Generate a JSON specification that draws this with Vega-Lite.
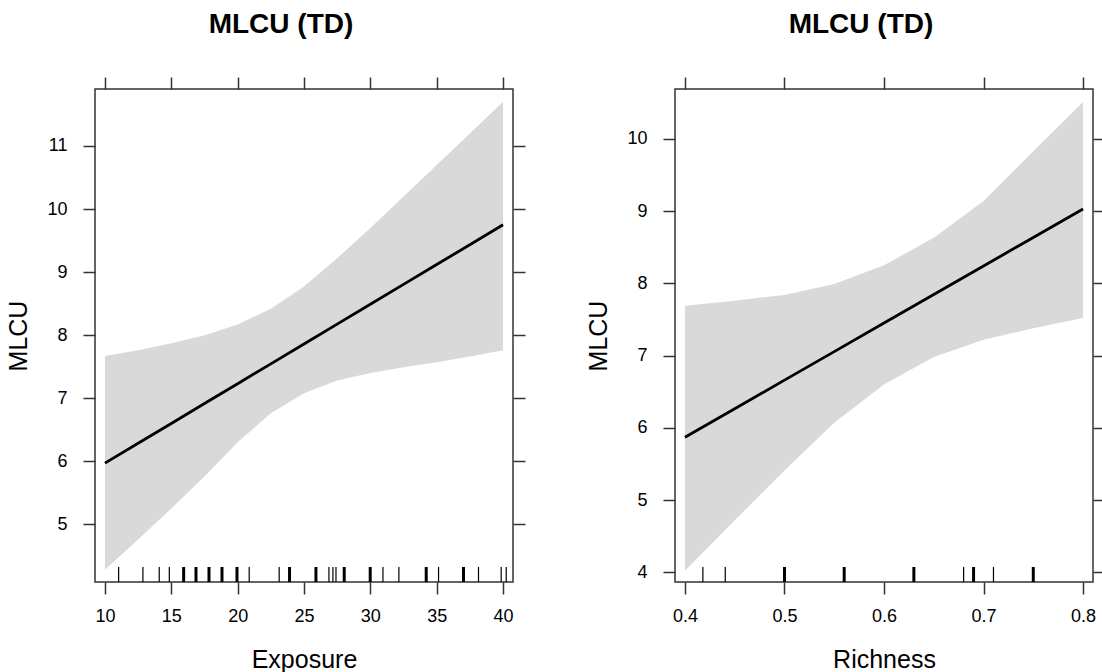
{
  "$schema": "https://vega.github.io/schema/vega-lite/v6.json",
  "background": "white",
  "padding": {"left": 6, "top": 10, "right": 5, "bottom": 5},
  "spacing": 59,
  "config": {
    "font": "Liberation Sans",
    "view": {"stroke": "#333333", "strokeWidth": 1.5},
    "axis": {
      "domain": false,
      "grid": false,
      "tickColor": "#333333",
      "tickWidth": 1.5,
      "tickSize": 12,
      "labelFontSize": 18,
      "labelColor": "#000000",
      "labelPadding": 13,
      "titleFontSize": 25,
      "titleFontWeight": "normal",
      "titleColor": "#000000"
    },
    "axisLeft": {"labelPadding": 16, "titlePadding": 15},
    "title": {"fontSize": 28, "fontWeight": "bold", "color": "#000000", "baseline": "bottom", "offset": 37, "dx": -23}
  },
  "datasets": {
    "exposure_fit": [
      {"Exposure": 10, "fit": 5.97, "lower": 4.28, "upper": 7.67},
      {"Exposure": 12.5, "fit": 6.285, "lower": 4.76, "upper": 7.76},
      {"Exposure": 15, "fit": 6.6, "lower": 5.25, "upper": 7.87},
      {"Exposure": 17.5, "fit": 6.915, "lower": 5.76, "upper": 8.0},
      {"Exposure": 20, "fit": 7.23, "lower": 6.3, "upper": 8.17},
      {"Exposure": 22.5, "fit": 7.545, "lower": 6.76, "upper": 8.42},
      {"Exposure": 25, "fit": 7.86, "lower": 7.08, "upper": 8.77},
      {"Exposure": 27.5, "fit": 8.175, "lower": 7.28, "upper": 9.22},
      {"Exposure": 30, "fit": 8.49, "lower": 7.4, "upper": 9.7},
      {"Exposure": 32.5, "fit": 8.805, "lower": 7.49, "upper": 10.2},
      {"Exposure": 35, "fit": 9.12, "lower": 7.57, "upper": 10.7},
      {"Exposure": 37.5, "fit": 9.435, "lower": 7.66, "upper": 11.2},
      {"Exposure": 40, "fit": 9.75, "lower": 7.76, "upper": 11.7}
    ],
    "exposure_rug": [
      {"v": 11.03}, {"v": 12.86}, {"v": 14.09}, {"v": 14.85},
      {"v": 15.93}, {"v": 15.93}, {"v": 16.86}, {"v": 16.86},
      {"v": 17.84}, {"v": 17.84}, {"v": 18.82}, {"v": 18.82},
      {"v": 19.95}, {"v": 19.95}, {"v": 20.87}, {"v": 23.13},
      {"v": 23.91}, {"v": 23.91}, {"v": 25.9}, {"v": 25.9},
      {"v": 26.88}, {"v": 27.18}, {"v": 27.41}, {"v": 28.03}, {"v": 28.03},
      {"v": 29.99}, {"v": 29.99}, {"v": 30.95}, {"v": 32.15},
      {"v": 34.21}, {"v": 34.21}, {"v": 35.14}, {"v": 37.02}, {"v": 37.02},
      {"v": 38.15}, {"v": 39.86}, {"v": 40.24}
    ],
    "richness_fit": [
      {"Richness": 0.4, "fit": 5.87, "lower": 4.02, "upper": 7.69},
      {"Richness": 0.45, "fit": 6.265, "lower": 4.72, "upper": 7.76},
      {"Richness": 0.5, "fit": 6.66, "lower": 5.41, "upper": 7.84},
      {"Richness": 0.55, "fit": 7.055, "lower": 6.07, "upper": 7.99},
      {"Richness": 0.6, "fit": 7.45, "lower": 6.6, "upper": 8.25},
      {"Richness": 0.65, "fit": 7.845, "lower": 6.98, "upper": 8.63},
      {"Richness": 0.7, "fit": 8.24, "lower": 7.22, "upper": 9.14},
      {"Richness": 0.75, "fit": 8.635, "lower": 7.38, "upper": 9.83},
      {"Richness": 0.8, "fit": 9.03, "lower": 7.52, "upper": 10.51}
    ],
    "richness_rug": [
      {"v": 0.418}, {"v": 0.4405}, {"v": 0.5}, {"v": 0.5},
      {"v": 0.56}, {"v": 0.56}, {"v": 0.63}, {"v": 0.63},
      {"v": 0.68}, {"v": 0.69}, {"v": 0.69}, {"v": 0.71},
      {"v": 0.75}, {"v": 0.75}
    ]
  },
  "hconcat": [
    {
      "width": 418,
      "height": 493,
      "title": {"text": "MLCU (TD)"},
      "resolve": {"axis": {"x": "independent", "y": "independent"}},
      "layer": [
        {
          "data": {"name": "exposure_fit"},
          "mark": {"type": "area", "color": "#d9d9d9"},
          "encoding": {
            "x": {"field": "Exposure", "type": "quantitative", "scale": {"domain": [9.25, 40.75], "nice": false, "zero": false},
                  "axis": {"orient": "bottom", "values": [10, 15, 20, 25, 30, 35, 40], "title": "Exposure", "titlePadding": 22}},
            "y": {"field": "lower", "type": "quantitative", "scale": {"domain": [4.085, 11.904], "nice": false, "zero": false},
                  "axis": {"orient": "left", "values": [5, 6, 7, 8, 9, 10, 11], "title": "MLCU"}},
            "y2": {"field": "upper"}
          }
        },
        {
          "data": {"name": "exposure_fit"},
          "mark": {"type": "line", "color": "#000000", "strokeWidth": 2.8},
          "encoding": {
            "x": {"field": "Exposure", "type": "quantitative",
                  "axis": {"orient": "top", "values": [10, 15, 20, 25, 30, 35, 40], "labels": false, "title": null}},
            "y": {"field": "fit", "type": "quantitative",
                  "axis": {"orient": "right", "values": [5, 6, 7, 8, 9, 10, 11], "labels": false, "title": null}}
          }
        },
        {
          "data": {"name": "exposure_rug"},
          "transform": [{"aggregate": [{"op": "count", "as": "n"}], "groupby": ["v"]}],
          "mark": {"type": "rule", "color": "#000000"},
          "encoding": {
            "x": {"field": "v", "type": "quantitative", "axis": null},
            "y": {"datum": 4.085, "axis": null},
            "y2": {"datum": 4.323},
            "strokeWidth": {"field": "n", "type": "quantitative", "scale": {"domain": [1, 2], "range": [1.2, 3]}, "legend": null}
          }
        }
      ]
    },
    {
      "width": 418,
      "height": 493,
      "title": {"text": "MLCU (TD)"},
      "resolve": {"axis": {"x": "independent", "y": "independent"}},
      "layer": [
        {
          "data": {"name": "richness_fit"},
          "mark": {"type": "area", "color": "#d9d9d9"},
          "encoding": {
            "x": {"field": "Richness", "type": "quantitative", "scale": {"domain": [0.39, 0.81], "nice": false, "zero": false},
                  "axis": {"orient": "bottom", "values": [0.4, 0.5, 0.6, 0.7, 0.8], "format": ".1f", "title": "Richness", "titlePadding": 22}},
            "y": {"field": "lower", "type": "quantitative", "scale": {"domain": [3.866, 10.69], "nice": false, "zero": false},
                  "axis": {"orient": "left", "values": [4, 5, 6, 7, 8, 9, 10], "title": "MLCU"}},
            "y2": {"field": "upper"}
          }
        },
        {
          "data": {"name": "richness_fit"},
          "mark": {"type": "line", "color": "#000000", "strokeWidth": 2.8},
          "encoding": {
            "x": {"field": "Richness", "type": "quantitative",
                  "axis": {"orient": "top", "values": [0.4, 0.5, 0.6, 0.7, 0.8], "labels": false, "title": null}},
            "y": {"field": "fit", "type": "quantitative",
                  "axis": {"orient": "right", "values": [4, 5, 6, 7, 8, 9, 10], "labels": false, "title": null}}
          }
        },
        {
          "data": {"name": "richness_rug"},
          "transform": [{"aggregate": [{"op": "count", "as": "n"}], "groupby": ["v"]}],
          "mark": {"type": "rule", "color": "#000000"},
          "encoding": {
            "x": {"field": "v", "type": "quantitative", "axis": null},
            "y": {"datum": 3.866, "axis": null},
            "y2": {"datum": 4.074},
            "strokeWidth": {"field": "n", "type": "quantitative", "scale": {"domain": [1, 2], "range": [1.2, 3]}, "legend": null}
          }
        }
      ]
    }
  ]
}
